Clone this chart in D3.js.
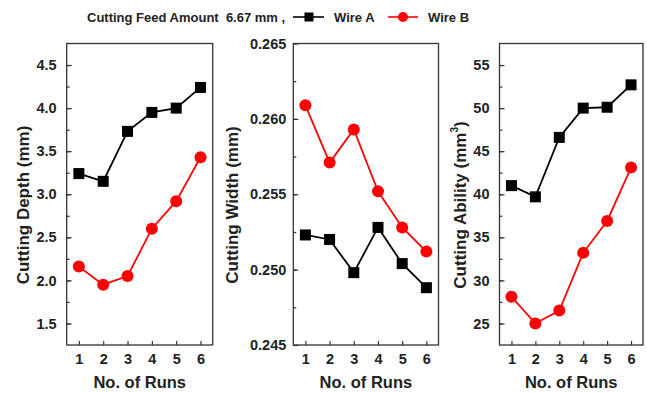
<!DOCTYPE html>
<html>
<head>
<meta charset="utf-8">
<script src="https://cdn.jsdelivr.net/npm/d3@7"></script>
<style>
  body { margin: 0; background: #fff; }
  svg text { font-family: "Liberation Sans", Arial, sans-serif; font-weight: bold; fill: #222; }
</style>
</head>
<body>
<div id="chart"></div>
<script>
const runs = [1, 2, 3, 4, 5, 6];

const depthA = [3.24, 3.15, 3.73, 3.95, 4.00, 4.24];
const depthB = [2.16, 1.95, 2.05, 2.60, 2.92, 3.43];
const widthA = [0.2523, 0.2520, 0.2498, 0.2528, 0.2504, 0.2488];
const widthB = [0.2609, 0.2571, 0.2593, 0.2552, 0.2528, 0.2512];
const abilityA = [41.0, 39.7, 46.6, 50.0, 50.1, 52.7];
const abilityB = [28.1, 25.0, 26.5, 33.2, 36.9, 43.1];

const depthTicks = [1.5, 2.0, 2.5, 3.0, 3.5, 4.0, 4.5];
const widthTicks = [0.245, 0.250, 0.255, 0.260, 0.265];
const abilityTicks = [25, 30, 35, 40, 45, 50, 55];

const svg = d3.select("#chart").append("svg")
  .attr("width", 647)
  .attr("height", 393);

const plotTop = 43.5, plotBottom = 345;

const panels = [
  { left: 66.7, right: 212.7, domain: [1.25, 4.75], ticks: depthTicks, step: 0.25, fmt: d3.format(".1f"), pad: 10, title: "Cutting Depth (mm)", tx: 23, a: depthA, b: depthB },
  { left: 293.3, right: 438.5, domain: [0.245, 0.265], ticks: widthTicks, step: 0.0025, fmt: d3.format(".3f"), pad: 7, title: "Cutting Width (mm)", tx: 232, a: widthA, b: widthB },
  { left: 499.5, right: 643, domain: [22.5, 57.5], ticks: abilityTicks, step: 2.5, fmt: d3.format("d"), pad: 10, title: "Cutting Ability (mm", sup: "3", tx: 460, a: abilityA, b: abilityB }
];

panels.forEach(p => {
  const x = d3.scaleLinear().domain([0.5, 6.5]).range([p.left, p.right]);
  const y = d3.scaleLinear().domain(p.domain).range([plotBottom, plotTop]);

  // minor ticks
  const minor = d3.range(p.domain[0], p.domain[1] + p.step / 2, p.step)
    .filter(v => v > p.domain[0] + 1e-9 && v < p.domain[1] - 1e-9);
  svg.append("g")
    .attr("transform", "translate(" + p.left + ",0)")
    .call(d3.axisLeft(y).tickValues(minor).tickSize(-3).tickFormat(""))
    .call(g => g.select(".domain").remove())
    .selectAll("line").attr("stroke", "#333").attr("stroke-width", 1.2);

  // major y ticks
  const ya = svg.append("g")
    .attr("transform", "translate(" + p.left + ",0)")
    .call(d3.axisLeft(y).tickValues(p.ticks).tickSize(-5).tickPadding(p.pad).tickFormat(p.fmt));
  ya.select(".domain").remove();
  ya.selectAll("line").attr("stroke", "#333").attr("stroke-width", 1.2);
  ya.selectAll("text").attr("font-size", 14.5).attr("font-family", null).attr("fill", "#222");

  // x axis
  const xa = svg.append("g")
    .attr("transform", "translate(0," + plotBottom + ")")
    .call(d3.axisBottom(x).tickValues(runs).tickSize(-4).tickPadding(9).tickFormat(d3.format("d")));
  xa.select(".domain").remove();
  xa.selectAll("line").attr("stroke", "#333").attr("stroke-width", 1.2);
  xa.selectAll("text").attr("font-size", 14.5).attr("font-family", null).attr("fill", "#222");

  // frame
  svg.append("rect")
    .attr("x", p.left).attr("y", plotTop)
    .attr("width", p.right - p.left).attr("height", plotBottom - plotTop)
    .attr("fill", "none").attr("stroke", "#333").attr("stroke-width", 1.3);

  // x title
  svg.append("text")
    .attr("x", (p.left + p.right) / 2).attr("y", 388)
    .attr("text-anchor", "middle").attr("font-size", 16.5)
    .text("No. of Runs");

  // y title
  const t = svg.append("text")
    .attr("transform", "translate(" + p.tx + ",205) rotate(-90)")
    .attr("dy", "0.35em")
    .attr("text-anchor", "middle").attr("font-size", 17)
    .text(p.title);
  if (p.sup) {
    t.append("tspan").attr("font-size", 10).attr("dy", "-0.8em").text(p.sup);
    t.append("tspan").attr("dy", "0.5em").text(")");
  }

  const line = d3.line().x((d, i) => x(runs[i])).y(d => y(d));

  svg.append("path").datum(p.a)
    .attr("d", line).attr("fill", "none").attr("stroke", "#000").attr("stroke-width", 1.8);
  svg.selectAll(null).data(p.a).enter().append("rect")
    .attr("x", (d, i) => x(runs[i]) - 5.5).attr("y", d => y(d) - 5.5)
    .attr("width", 11).attr("height", 11).attr("fill", "#000");

  svg.append("path").datum(p.b)
    .attr("d", line).attr("fill", "none").attr("stroke", "#ff0000").attr("stroke-width", 1.8);
  svg.selectAll(null).data(p.b).enter().append("circle")
    .attr("cx", (d, i) => x(runs[i])).attr("cy", d => y(d))
    .attr("r", 6).attr("fill", "#ff0000");
});

// legend
const lg = svg.append("g");
lg.append("text").attr("x", 87).attr("y", 22).attr("font-size", 13)
  .attr("xml:space", "preserve").text("Cutting Feed Amount  6.67 mm ,");
lg.append("line").attr("x1", 293).attr("x2", 324).attr("y1", 17).attr("y2", 17)
  .attr("stroke", "#000").attr("stroke-width", 1.6);
lg.append("rect").attr("x", 304.5).attr("y", 12.5).attr("width", 9).attr("height", 9).attr("fill", "#000");
lg.append("text").attr("x", 334).attr("y", 22).attr("font-size", 13).text("Wire A");
lg.append("line").attr("x1", 388).attr("x2", 418).attr("y1", 17).attr("y2", 17)
  .attr("stroke", "#ff0000").attr("stroke-width", 1.6);
lg.append("circle").attr("cx", 403).attr("cy", 17).attr("r", 5).attr("fill", "#ff0000");
lg.append("text").attr("x", 428).attr("y", 22).attr("font-size", 13).text("Wire B");
</script>
</body>
</html>
